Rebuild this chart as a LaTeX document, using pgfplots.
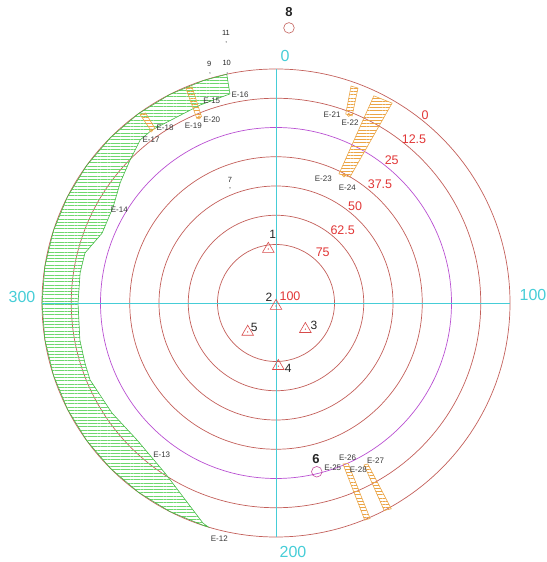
\documentclass[border=0pt]{standalone}
\usepackage{pgfplots}
\pgfplotsset{compat=1.18}
\usepackage{pgfplotstable}
\usetikzlibrary{patterns.meta}
\usepackage{fontspec}
\setmainfont{Liberation Sans}
\definecolor{circ}{RGB}{195,95,90}
\definecolor{purp}{RGB}{185,80,210}
\definecolor{cyanc}{RGB}{70,205,215}
\definecolor{redlab}{RGB}{225,55,55}
\definecolor{tri}{RGB}{215,75,75}
\definecolor{grn}{RGB}{110,215,110}
\definecolor{grnb}{RGB}{70,185,70}
\definecolor{orng}{RGB}{235,165,70}
\definecolor{elab}{RGB}{55,55,55}
\definecolor{mag}{RGB}{195,75,160}

\pgfplotstableread{
a v
386.5 0
380 0
370 0
360 0
350 0
340 0
330 0
320 0
310 0
300 0
290 0
280 0
270 0
260 0
250 0
240 0
230 0
220 0
218.7 0
220.4 0.9
236.8 13.2
250.4 16.6
262.4 15.6
275 14
280.6 14.4
288.1 14.7
300 15.4
309.7 15.3
316.3 15.6
324.3 19.9
333.9 19.2
341.8 15.9
349.3 12.7
355.8 9.3
360.4 9
376.7 9.4
386.2 8.5
}\greenzone

\pgfplotstableread{
a v
360.2 0.7
361.7 1.5
361.4 9.3
360.1 9.0
}\bandA
\pgfplotstableread{
a v
374.7 0.6
376.4 0.9
375.8 14.2
374.2 14.2
}\bandB
\pgfplotstableread{
a v
21.2 1.9
23.2 1.7
24.6 13.7
22.5 13.9
}\bandC
\pgfplotstableread{
a v
28.1 2.1
33.5 1.2
33.8 37.6
28.9 38.6
}\bandD
\pgfplotstableread{
a v
174.9 25.5
173.1 24.8
173.8 -0.5
175.3 -0.2
}\bandE
\pgfplotstableread{
a v
168.3 21.2
167.0 20.8
167.5 -0.8
169.4 0
}\bandF

\pgfplotstableread{
a v
391.0 76.7
200 98.7
146.3 83.2
197.7 73.0
249.3 82.7
}\tripts
\pgfplotstableread{
a v
375.8 47
382.2 -2.3
386.7 -0.5
388.0 -13.6
}\dotpts
\pgfplotstableread{
a v
360.1 9.0
375.0 14.2
23.5 13.8
31.2 38.2
}\bandends

\def\PX{2.34*(100-\thisrow{v})*sin(0.9*\thisrow{a})}
\def\PY{2.34*(100-\thisrow{v})*cos(0.9*\thisrow{a})}
\pgfplotsset{
  bandstyle/.style={draw=orng,line width=0.6pt,pattern={Lines[angle=0,distance=3.2pt,line width=0.6pt]},pattern color=orng}
}

\begin{document}
\begin{tikzpicture}
\begin{axis}[x=1pt,y=1pt,xmin=-276,xmax=270,ymin=-259,ymax=303,
  hide axis,clip=false]
\coordinate (SW) at (axis cs:-276,-259);
\coordinate (NE) at (axis cs:270,303);
% grid circles
\pgfplotsinvokeforeach{234,204.75,146.25,117,87.75,58.5}{
  \draw[circ,line width=0.7pt] (axis cs:0,0) circle[radius=#1];
}
\draw[purp,line width=0.7pt] (axis cs:0,0) circle[radius=175.5];

% green zone
\addplot[draw=grnb,line width=0.6pt,pattern={Lines[angle=0,distance=3.3pt,line width=0.55pt]},pattern color=grn]
  table[x expr=\PX,y expr=\PY]{\greenzone} -- cycle;
% orange bands
\addplot[bandstyle] table[x expr=\PX,y expr=\PY]{\bandA} -- cycle;
\addplot[bandstyle] table[x expr=\PX,y expr=\PY]{\bandB} -- cycle;
\addplot[bandstyle] table[x expr=\PX,y expr=\PY]{\bandC} -- cycle;
\addplot[bandstyle] table[x expr=\PX,y expr=\PY]{\bandD} -- cycle;
\addplot[bandstyle] table[x expr=\PX,y expr=\PY]{\bandE} -- cycle;
\addplot[bandstyle] table[x expr=\PX,y expr=\PY]{\bandF} -- cycle;
\addplot[only marks,mark=o,mark size=1.6pt,orng,line width=0.5pt]
  table[x expr=\PX,y expr=\PY]{\bandends};

\draw[cyanc,line width=0.7pt] (axis cs:0,-234) -- (axis cs:0,234);
\draw[cyanc,line width=0.7pt] (axis cs:-234,0) -- (axis cs:234,0);

% points
\addplot[only marks,mark=triangle,mark size=6.7pt,tri,line width=0.6pt]
  table[x expr=\PX,y expr=\PY]{\tripts};
\addplot[only marks,mark=*,mark size=0.35pt,tri]
  table[x expr=\PX,y expr=\PY]{\tripts};
\addplot[only marks,mark=*,mark size=0.4pt,gray]
  table[x expr=\PX,y expr=\PY]{\dotpts};
\addplot[only marks,mark=o,mark size=5.3pt,mag,line width=0.6pt]
  table[x expr=\PX,y expr=\PY]{
a v
184.9 25.8
};
\addplot[only marks,mark=o,mark size=5.3pt,circ,line width=0.6pt]
  table[x expr=\PX,y expr=\PY]{
a v
3.0 -17.7
};

% angle labels
\begin{scope}[every node/.style={text=cyanc,font=\fontsize{16}{16}\selectfont,inner sep=0pt}]
\node at (axis cs:9,247) {0};
\node at (axis cs:257,8) {100};
\node at (axis cs:17,-249) {200};
\node at (axis cs:-254,6) {300};
\end{scope}
% circle value labels
\begin{scope}[every node/.style={text=redlab,font=\fontsize{12.5}{12.5}\selectfont,inner sep=0pt}]
\node at (axis cs:149,188) {0};
\node at (axis cs:138,164) {12.5};
\node at (axis cs:115.7,143) {25};
\node at (axis cs:104,119) {37.5};
\node at (axis cs:79,97) {50};
\node at (axis cs:66.7,73) {62.5};
\node at (axis cs:46.7,50.3) {75};
\node at (axis cs:14,7) {100};
\end{scope}
% point labels
\begin{scope}[every node/.style={text=black!85,font=\fontsize{12}{12}\selectfont,inner sep=0pt}]
\node at (axis cs:-3.3,69) {1};
\node at (axis cs:-7,5.7) {2};
\node at (axis cs:38,-22) {3};
\node at (axis cs:12.3,-65.3) {4};
\node at (axis cs:-21.7,-24.7) {5};
\node[font=\fontsize{13}{13}\selectfont\bfseries] at (axis cs:40,-156) {6};
\node[font=\fontsize{13}{13}\selectfont\bfseries] at (axis cs:13,291) {8};
\node[font=\fontsize{7.5}{7.5}\selectfont] at (axis cs:-46,123) {7};
\node[font=\fontsize{7.5}{7.5}\selectfont] at (axis cs:-66.7,238.7) {9};
\node[font=\fontsize{7.5}{7.5}\selectfont] at (axis cs:-49.3,239.7) {10};
\node[font=\fontsize{7.5}{7.5}\selectfont] at (axis cs:-50,269.7) {11};
\end{scope}
% E labels
\begin{scope}[every node/.style={text=elab,font=\fontsize{8}{8}\selectfont,inner sep=0pt}]
\node at (axis cs:-56.7,-235.3) {E-12};
\node at (axis cs:-114.3,-152) {E-13};
\node at (axis cs:-156.7,93.7) {E-14};
\node at (axis cs:-64.3,202.3) {E-15};
\node at (axis cs:-36,208) {E-16};
\node at (axis cs:-125,163) {E-17};
\node at (axis cs:-111,175.7) {E-18};
\node at (axis cs:-82.7,177.5) {E-19};
\node at (axis cs:-64.3,183) {E-20};
\node at (axis cs:56,188.5) {E-21};
\node at (axis cs:74,180.7) {E-22};
\node at (axis cs:47.3,124.7) {E-23};
\node at (axis cs:71.3,115.3) {E-24};
\node at (axis cs:56.7,-164.3) {E-25};
\node at (axis cs:71.5,-155) {E-26};
\node at (axis cs:99.5,-157.3) {E-27};
\node at (axis cs:82.3,-166.3) {E-28};
\end{scope}
\end{axis}
\pgfresetboundingbox
\path (SW) rectangle (NE);
\end{tikzpicture}
\end{document}
